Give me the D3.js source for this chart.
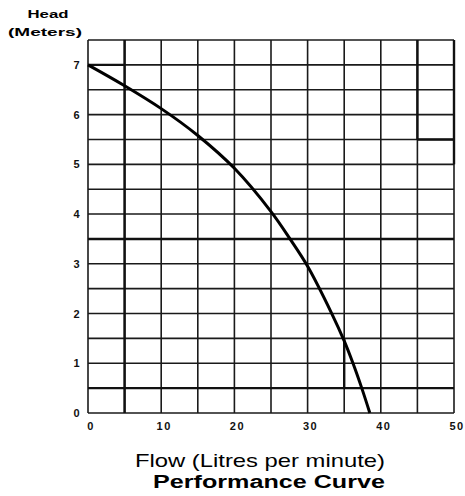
<!DOCTYPE html>
<html lang="en">
<head>
    <meta charset="UTF-8">
    <title>Performance Curve</title>
    <script src="https://d3js.org/d3.v7.min.js"></script>
    <style>
        body {
            margin: 0;
            background: #fff;
            font-family: "Liberation Sans", Arial, sans-serif;
        }
        .tick-label {
            font-size: 11px;
            font-weight: bold;
            letter-spacing: 1.5px;
            fill: #111;
        }
    </style>
</head>
<body>
    <div id="chart"></div>

    <script>
        // curve: flow (L/min) vs head (m)
        const flow = [0, 5, 10, 15, 20, 25, 27.6, 30, 33.3, 35, 36.2, 37.4, 38.5];
        const head = [7, 6.58, 6.12, 5.58, 4.92, 4.05, 3.5, 2.95, 2.0, 1.45, 1.0, 0.5, 0];

        const xTicks = [0, 10, 20, 30, 40, 50];
        const yTicks = [0, 1, 2, 3, 4, 5, 6, 7];

        // heavier grid strokes seen on the scanned sheet: [x1, y1, x2, y2]
        const heavyLines = [
            [0, 3.5, 50, 3.5],
            [5, 0, 5, 7.5],
            [0, 7, 5, 7],
            [0, 0.5, 50, 0.5],
            [45, 5.5, 45, 7.5],
            [45, 5.5, 50, 5.5],
            [35, 0.5, 35, 1.5],
            [50, 5, 50, 7.5]
        ];

        const width = 465;
        const height = 496;
        const margin = { left: 88, right: 11, top: 40, bottom: 83 };

        const svg = d3.select("#chart")
            .append("svg")
            .attr("width", width)
            .attr("height", height);

        const x = d3.scaleLinear()
            .domain([0, 50])
            .range([margin.left, width - margin.right]);

        const y = d3.scaleLinear()
            .domain([0, 7.5])
            .range([height - margin.bottom, margin.top]);

        // grid every 5 on x, every 0.5 on y
        const grid = svg.append("g")
            .attr("stroke", "#1a1a1a")
            .attr("stroke-width", 1.6);

        grid.selectAll("line.v")
            .data(d3.range(0, 50.1, 5))
            .enter()
            .append("line")
            .attr("x1", d => x(d))
            .attr("x2", d => x(d))
            .attr("y1", y(0))
            .attr("y2", y(7.5));

        grid.selectAll("line.h")
            .data(d3.range(0, 7.51, 0.5))
            .enter()
            .append("line")
            .attr("class", "h")
            .attr("x1", x(0))
            .attr("x2", x(50))
            .attr("y1", d => y(d))
            .attr("y2", d => y(d));

        svg.append("g")
            .attr("stroke", "#111")
            .attr("stroke-width", 2.4)
            .selectAll("line")
            .data(heavyLines)
            .enter()
            .append("line")
            .attr("x1", d => x(d[0]))
            .attr("y1", d => y(d[1]))
            .attr("x2", d => x(d[2]))
            .attr("y2", d => y(d[3]));

        // the pump curve
        const line = d3.line()
            .x((d, i) => x(flow[i]))
            .y((d, i) => y(head[i]))
            .curve(d3.curveCatmullRom.alpha(0.5));

        svg.append("path")
            .datum(flow)
            .attr("d", line)
            .attr("fill", "none")
            .attr("stroke", "#000")
            .attr("stroke-width", 3);

        // tick labels
        svg.selectAll("text.ytick")
            .data(yTicks)
            .enter()
            .append("text")
            .attr("class", "tick-label")
            .attr("x", x(0) - 7)
            .attr("y", d => y(d) + 4)
            .attr("text-anchor", "end")
            .text(d => d);

        svg.selectAll("text.xtick")
            .data(xTicks)
            .enter()
            .append("text")
            .attr("class", "tick-label")
            .attr("x", d => x(d) + 3)
            .attr("y", y(0) + 17)
            .attr("text-anchor", "middle")
            .text(d => d);

        // axis titles
        svg.append("text")
            .attr("x", 48)
            .attr("y", 18)
            .attr("text-anchor", "middle")
            .attr("font-size", 11)
            .attr("font-weight", "bold")
            .attr("textLength", 41)
            .attr("lengthAdjust", "spacingAndGlyphs")
            .text("Head");

        svg.append("text")
            .attr("x", 45)
            .attr("y", 36)
            .attr("text-anchor", "middle")
            .attr("font-size", 11)
            .attr("font-weight", "bold")
            .attr("textLength", 74)
            .attr("lengthAdjust", "spacingAndGlyphs")
            .text("(Meters)");

        svg.append("text")
            .attr("x", 260)
            .attr("y", 467)
            .attr("text-anchor", "middle")
            .attr("font-size", 19)
            .attr("textLength", 250)
            .attr("lengthAdjust", "spacingAndGlyphs")
            .text("Flow (Litres per minute)");

        svg.append("text")
            .attr("x", 269)
            .attr("y", 488)
            .attr("text-anchor", "middle")
            .attr("font-size", 18)
            .attr("font-weight", "bold")
            .attr("textLength", 232)
            .attr("lengthAdjust", "spacingAndGlyphs")
            .text("Performance Curve");
    </script>
</body>
</html>
